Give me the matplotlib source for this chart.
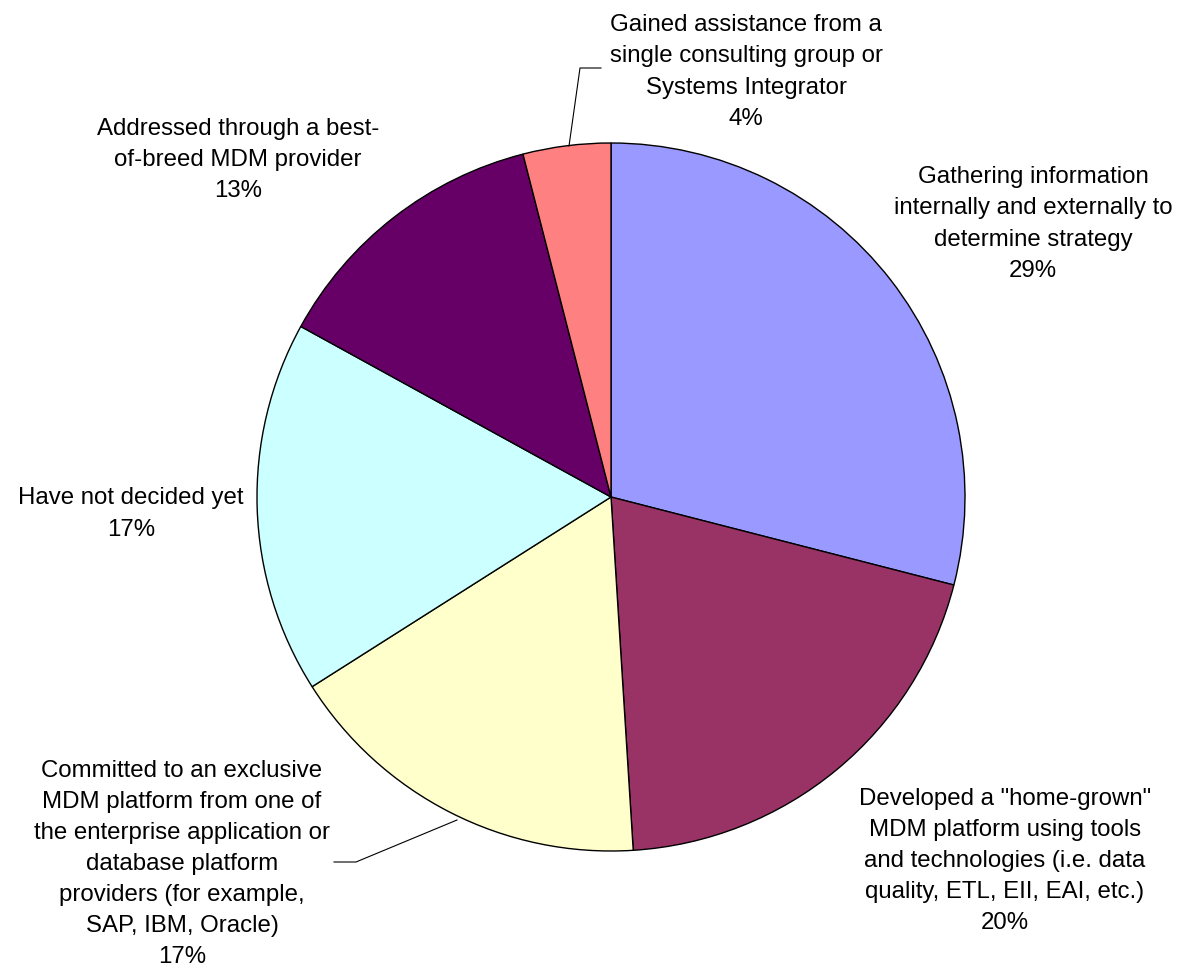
import matplotlib.pyplot as plt

# MDM strategy survey results, clockwise from 12 o'clock
labels = [
    "Gathering information\ninternally and externally to\ndetermine strategy",
    "Developed a \"home-grown\"\nMDM platform using tools\nand technologies (i.e. data\nquality, ETL, EII, EAI, etc.)",
    "Committed to an exclusive\nMDM platform from one of\nthe enterprise application or\ndatabase platform\nproviders (for example,\nSAP, IBM, Oracle)",
    "Have not decided yet",
    "Addressed through a best-\nof-breed MDM provider",
    "Gained assistance from a\nsingle consulting group or\nSystems Integrator",
]
shares = [29, 20, 17, 17, 13, 4]
colors = ["#9999FF", "#993366", "#FFFFCC", "#CCFFFF", "#660066", "#FF8080"]

# label block centres in pixel space (y measured from top)
label_pos = [(1033, 224), (1005, 861), (182, 864), (131, 514), (238, 160), (746, 72)]

W, H = 1182, 970
plt.rcParams['font.family'] = ['Liberation Sans', 'DejaVu Sans']

fig = plt.figure(figsize=(W / 100, H / 100), dpi=100)
ax = fig.add_axes([0, 0, 1, 1])

ax.pie(shares, colors=colors, startangle=90, counterclock=False,
       center=(611, H - 498), radius=354,
       wedgeprops=dict(edgecolor='black', linewidth=1))

# pie() resets the limits, so set the pixel frame afterwards
ax.set_xlim(0, W)
ax.set_ylim(0, H)
ax.set_aspect('equal')
ax.axis('off')

for lab, val, (px, py) in zip(labels, shares, label_pos):
    ax.text(px, H - py, f"{lab}\n{val}%", ha='center', va='center',
            multialignment='center', fontsize=17.3, linespacing=1.53)

# leader lines for the two labels sitting away from their slices
ax.plot([569, 580, 601], [H - 147, H - 69, H - 69], color='black', lw=0.8)
ax.plot([457, 356, 334], [H - 821, H - 863, H - 863], color='black', lw=0.8)

plt.savefig("out.png", dpi=100)
